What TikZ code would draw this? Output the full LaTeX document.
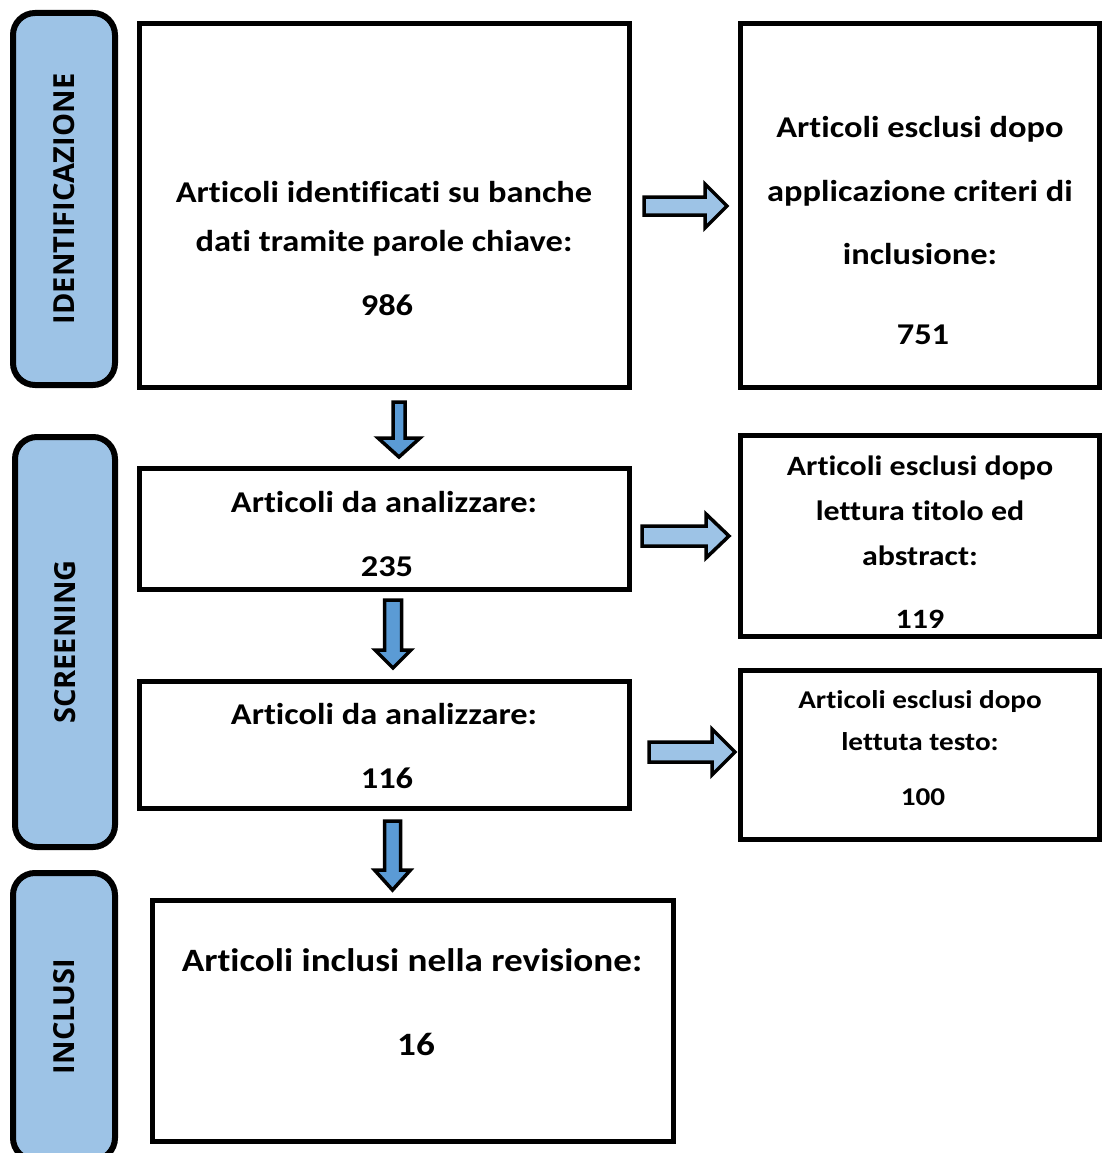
\documentclass[tikz,border=0pt]{standalone}
\usepackage{fontspec}
\usepackage{graphicx}
\setmainfont{Carlito}[Ligatures={NoCommon}]
\newfontfamily\phasefont{Open Sans}
\definecolor{phaseblue}{HTML}{9DC3E6}
\definecolor{downblue}{HTML}{5B9BD5}
\newcommand{\wide}[1]{\scalebox{1.14}[1]{#1}}
\tikzset{
  box/.style={draw, line width=5pt, inner sep=0pt},
  phase/.style={draw, line width=6pt, rounded corners=22pt, fill=phaseblue,
    inner sep=0pt, rotate=90, font=\phasefont\bfseries\fontsize{29}{32}\selectfont},
  txtbox/.style={anchor=base, yshift=-9.5pt, font=\bfseries\fontsize{30.2}{34}\selectfont},
  txtmid/.style={anchor=base, yshift=-8.8pt, font=\bfseries\fontsize{28}{32}\selectfont},
  txtsmall/.style={anchor=base, yshift=-8pt, font=\bfseries\fontsize{25.6}{29}\selectfont},
  txtbig/.style={anchor=base, yshift=-10.3pt, font=\bfseries\fontsize{32.6}{36}\selectfont},
  rarrow/.style={draw, line width=3.5pt, fill=phaseblue, line join=miter},
  darrow/.style={draw, line width=3.5pt, fill=downblue, line join=miter}
}
\begin{document}
\begin{tikzpicture}[x=1pt, y=-1pt]
  \useasboundingbox[fill=white] (0,0) rectangle (1103,1153);
  \clip (0,0) rectangle (1103,1153);

  % fasi
  \node[phase, minimum width=372pt, minimum height=102pt] (fid) at (64,199) {IDENTIFICAZIONE};
  \node[phase, minimum width=410pt, minimum height=100pt] (fscr) at (65,642) {SCREENING};
  \node[phase, minimum width=287pt, minimum height=102pt] (finc) at (64,1016.5) {INCLUSI};

  % testi
  \node[txtbox] (idA) at (384,193) {\wide{Articoli identificati su banche}};
  \node[txtbox] (idB) at (384,242) {\wide{dati tramite parole chiave:}};
  \node[txtbox] (idN) at (387,306) {\wide{986}};
  \node[txtbox] (exA) at (920,128) {\wide{Articoli esclusi dopo}};
  \node[txtbox] (exB) at (920,192) {\wide{applicazione criteri di}};
  \node[txtbox] (exC) at (920,255) {\wide{inclusione:}};
  \node[txtbox] (exN) at (923,335) {\wide{751}};
  \node[txtbox] (anA) at (384,503) {\wide{Articoli da analizzare:}};
  \node[txtbox] (anN) at (387,567) {\wide{235}};
  \node[txtmid] (tiA) at (920,467) {\wide{Articoli esclusi dopo}};
  \node[txtmid] (tiB) at (920,512) {\wide{lettura titolo ed}};
  \node[txtmid] (tiC) at (920,557) {\wide{abstract:}};
  \node[txtmid] (tiN) at (920,620) {\wide{119}};
  \node[txtbox] (fuA) at (384,715) {\wide{Articoli da analizzare:}};
  \node[txtbox] (fuN) at (387,779) {\wide{116}};
  \node[txtsmall] (teA) at (920,700) {\wide{Articoli esclusi dopo}};
  \node[txtsmall] (teB) at (920,742) {\wide{lettuta testo:}};
  \node[txtsmall] (teN) at (923,797) {\wide{100}};
  \node[txtbig] (inA) at (412,961) {\wide{Articoli inclusi nella revisione:}};
  \node[txtbig] (inN) at (416,1045) {\wide{16}};

  % riquadri
  \node[box, minimum width=490pt, minimum height=363pt] (ident) at (384,205.5) {};
  \node[box, minimum width=359pt, minimum height=363pt] (excl) at (919.5,205.5) {};
  \node[box, minimum width=490pt, minimum height=121pt] (anal) at (384,528.5) {};
  \node[box, minimum width=359pt, minimum height=201pt] (titol) at (919.5,535.5) {};
  \node[box, minimum width=490pt, minimum height=127pt] (full) at (384,744.5) {};
  \node[box, minimum width=359pt, minimum height=169pt] (testo) at (919.5,754.5) {};
  \node[box, minimum width=521pt, minimum height=241pt] (incl) at (412.5,1020.5) {};

  % frecce
  \draw[rarrow, shift={(644,206)}] (0,-9) -- (61,-9) -- (61,-22) -- (83,0) -- (61,22) -- (61,9) -- (0,9) -- cycle;
  \draw[rarrow, shift={(642,536)}] (0,-10) -- (64,-10) -- (64,-22) -- (87,0) -- (64,22) -- (64,10) -- (0,10) -- cycle;
  \draw[rarrow, shift={(649,752)}] (0,-10) -- (63,-10) -- (63,-23) -- (86,0) -- (63,23) -- (63,10) -- (0,10) -- cycle;
  \draw[darrow, shift={(399,402)}] (-6,0) -- (6,0) -- (6,36) -- (21,36) -- (0,55) -- (-21,36) -- (-6,36) -- cycle;
  \draw[darrow, shift={(393,600)}] (-8.5,0) -- (8.5,0) -- (8.5,50) -- (18,50) -- (0,68) -- (-18,50) -- (-8.5,50) -- cycle;
  \draw[darrow, shift={(392.5,821)}] (-8,0) -- (8,0) -- (8,49) -- (18,49) -- (0,69) -- (-18,49) -- (-8,49) -- cycle;
\end{tikzpicture}
\end{document}
